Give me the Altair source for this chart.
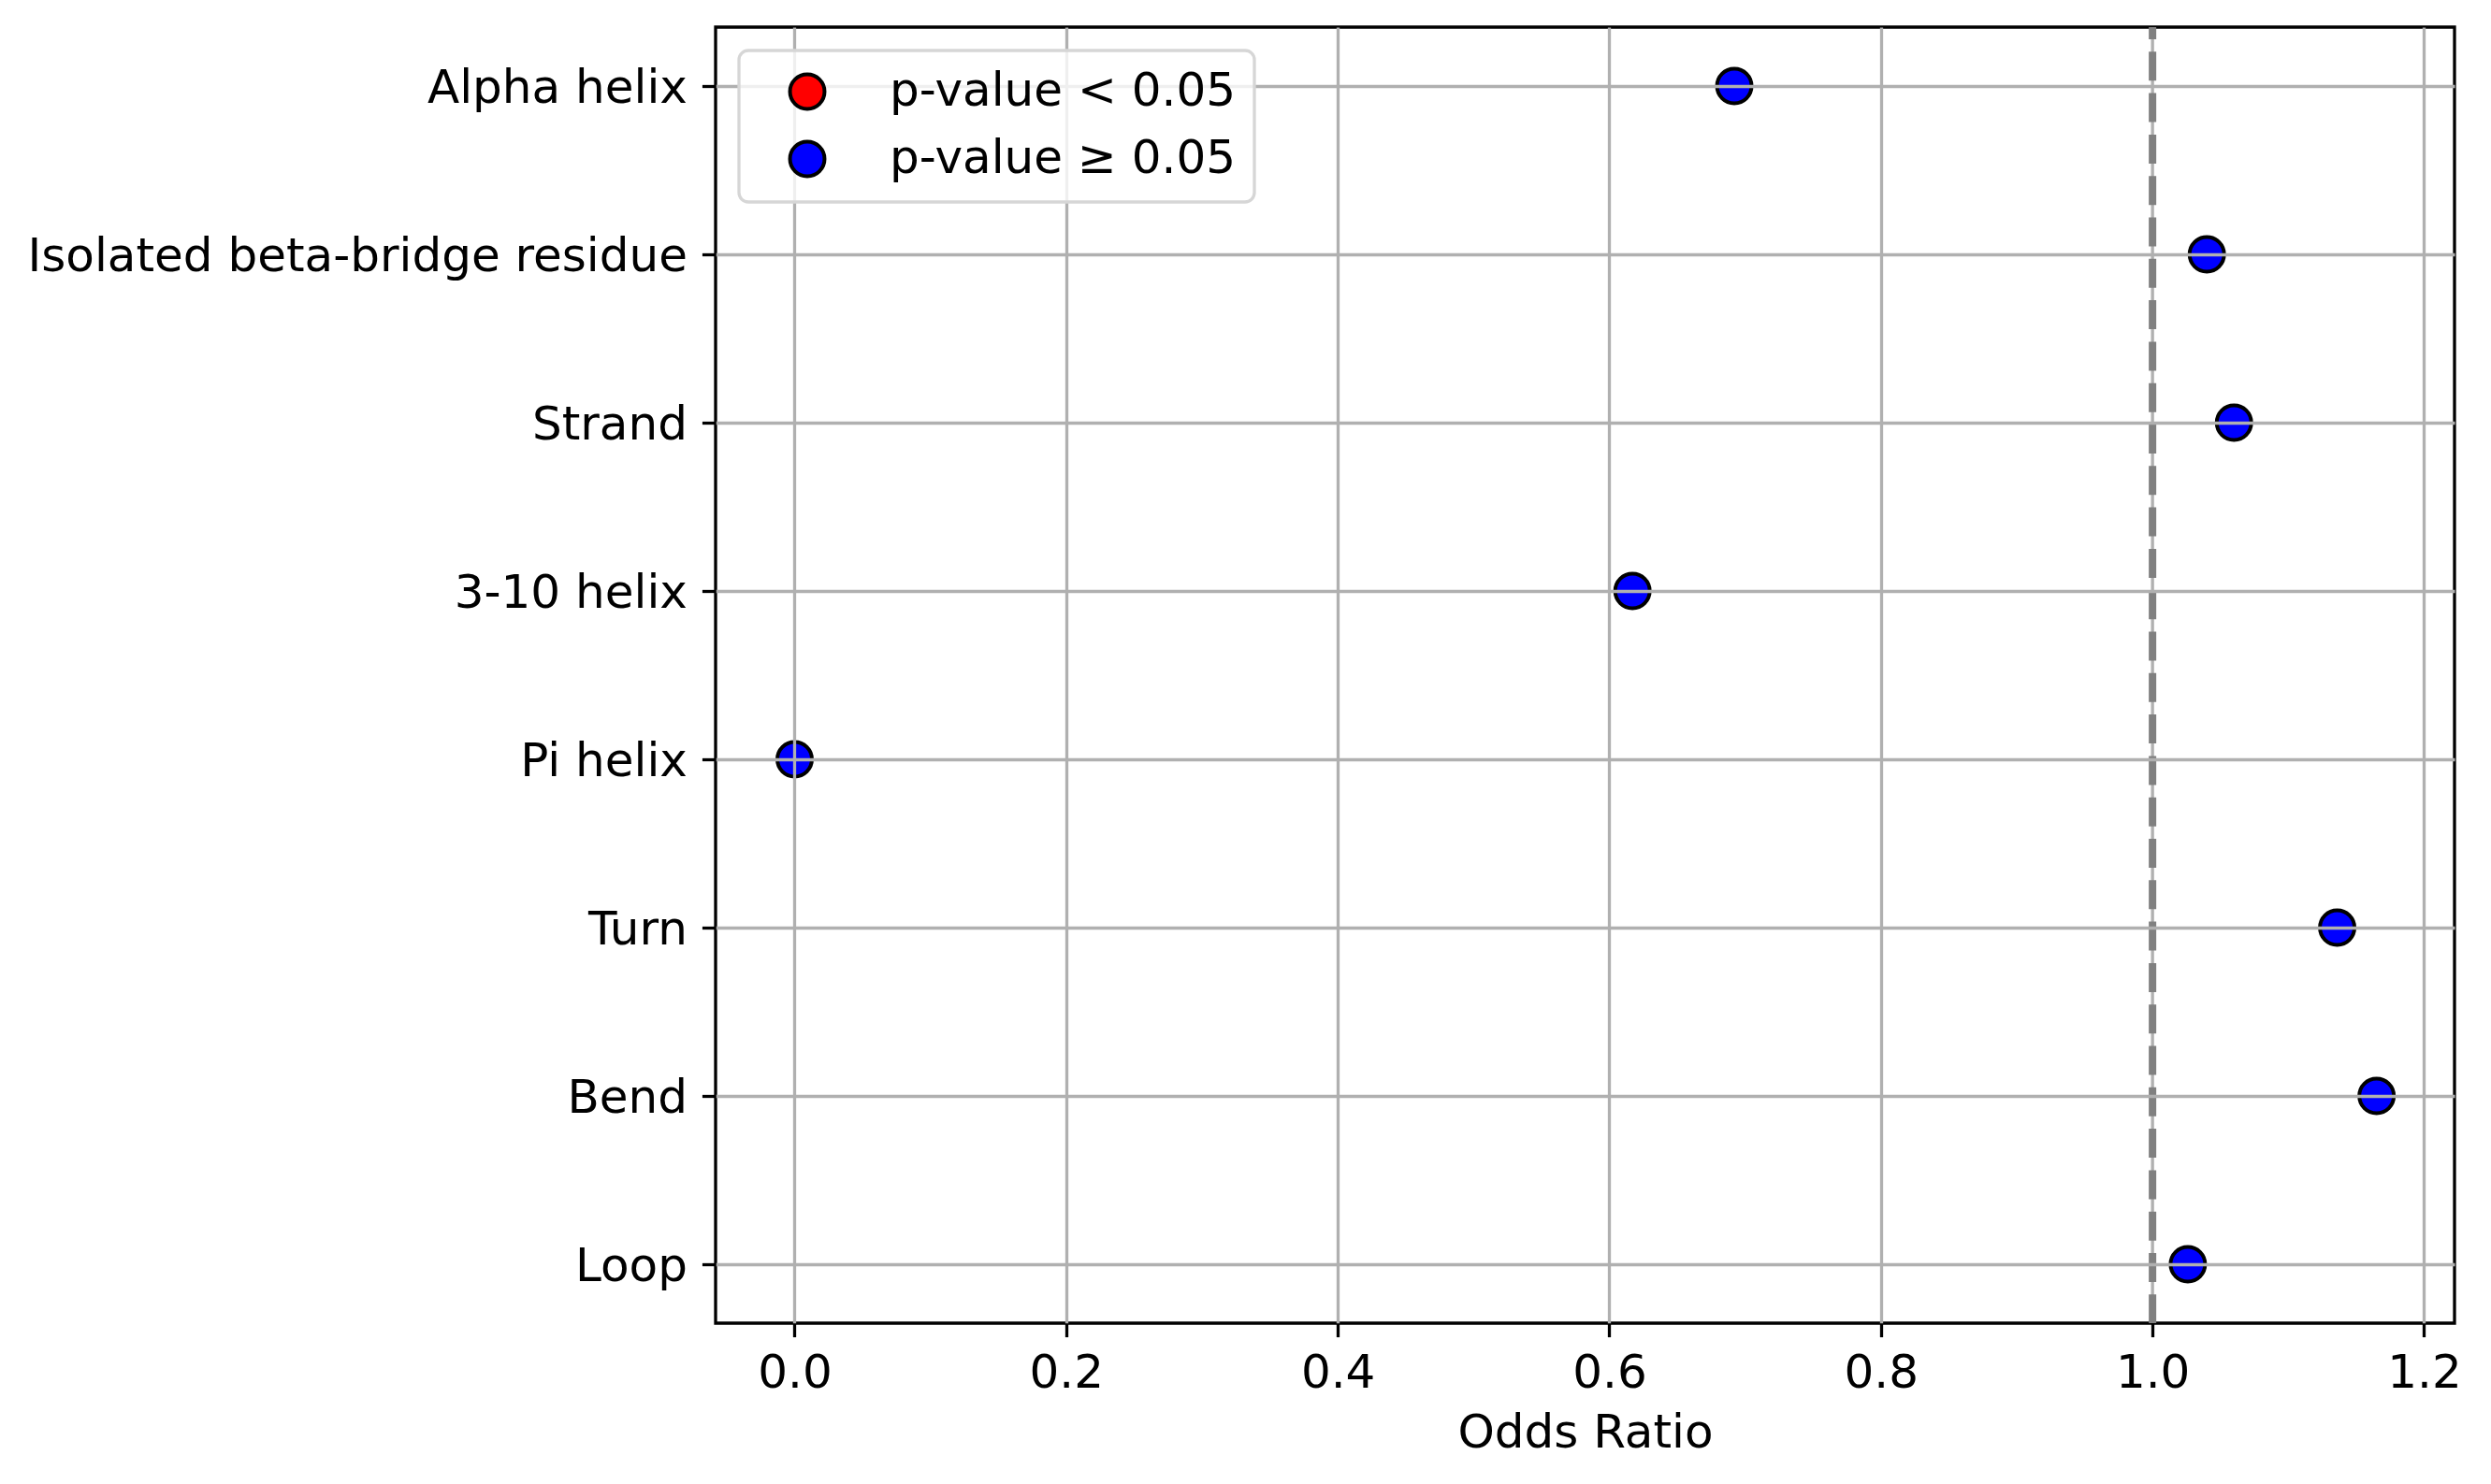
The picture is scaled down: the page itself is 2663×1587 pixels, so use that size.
import altair as alt
import pandas as pd

categories = ["Alpha helix", "Isolated beta-bridge residue", "Strand", "3-10 helix",
              "Pi helix", "Turn", "Bend", "Loop"]
odds_ratios = [0.692, 1.040, 1.060, 0.617, 0.0, 1.136, 1.165, 1.026]
significance = ["p-value ≥ 0.05", "p-value ≥ 0.05", "p-value ≥ 0.05", "p-value ≥ 0.05",
                "p-value ≥ 0.05", "p-value ≥ 0.05", "p-value ≥ 0.05", "p-value ≥ 0.05"]
legend_labels = ["p-value < 0.05", "p-value ≥ 0.05"]
legend_colors = ["#ff0000", "#0000ff"]
x_ticks = [0.0, 0.2, 0.4, 0.6, 0.8, 1.0, 1.2]
x_domain = [-0.0582, 1.2224]
reference_value = [1.0]

df = pd.DataFrame({"cat": categories, "odds": odds_ratios, "sig": significance})
ref_df = pd.DataFrame({"odds": reference_value})

x_enc = alt.X(
    "odds:Q",
    title="Odds Ratio",
    scale=alt.Scale(domain=x_domain, nice=False, zero=False),
    axis=alt.Axis(
        values=x_ticks,
        format=".1f",
        zindex=1,
        grid=True,
        gridOpacity={"condition": {"test": "abs(datum.value - 1) < 1e-9", "value": 0}, "value": 1},
    ),
)

# grid line underneath the dashed reference line
ref_grid = alt.Chart(ref_df).mark_rule(color="#b0b0b0", strokeWidth=3.3).encode(x=x_enc)

rule = alt.Chart(ref_df).mark_rule(
    color="#808080", strokeWidth=8, strokeDash=[31, 13.3], strokeDashOffset=18
).encode(x=x_enc)

points = alt.Chart(df).mark_circle(
    size=1364, stroke="black", strokeWidth=4, opacity=1
).encode(
    x=x_enc,
    y=alt.Y(
        "cat:N",
        sort=categories,
        title=None,
        scale=alt.Scale(type="point", padding=0.35),
        axis=alt.Axis(zindex=1, grid=True, labelLimit=2000, labelOffset=2),
    ),
    color=alt.Color(
        "sig:N",
        scale=alt.Scale(domain=legend_labels, range=legend_colors),
        legend=alt.Legend(
            title=None,
            orient="none",
            legendX=25,
            legendY=25,
            padding=19,
            symbolOffset=29,
            labelOffset=63,
            rowPadding=18,
            labelFontSize=50,
            labelFont="DejaVu Sans",
            labelColor="black",
            labelLimit=1000,
            symbolSize=1364,
            symbolType="circle",
            symbolStrokeColor="black",
            symbolStrokeWidth=4,
            fillColor="rgba(255,255,255,0.8)",
            strokeColor="#d6d6d6",
            cornerRadius=10,
            zindex=2,
        ),
    ),
)

chart = alt.layer(ref_grid, rule, points).properties(
    width=1859,
    height=1386,
    autosize=alt.AutoSizeParams(type="none"),
    padding={"left": 757, "top": 21, "right": 25, "bottom": 150},
    background="white",
).configure_view(
    stroke="black", strokeWidth=3.3
).configure_axis(
    labelFont="DejaVu Sans",
    labelFontSize=50,
    labelColor="black",
    titleFont="DejaVu Sans",
    titleFontSize=50,
    titleColor="black",
    titleFontWeight="normal",
    domain=False,
    tickColor="black",
    tickWidth=3.3,
    tickSize=14.6,
    gridColor="#b0b0b0",
    gridWidth=3.3,
).configure_axisX(
    labelPadding=14, titlePadding=14
).configure_axisY(
    labelPadding=16
).configure_legend(
    strokeWidth=3.3
)

chart.save("out.html", embed_options={"renderer": "svg", "actions": False})
